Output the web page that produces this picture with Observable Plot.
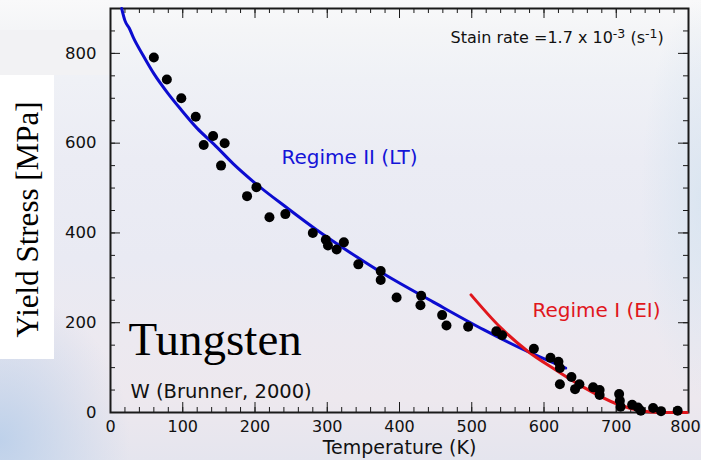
<!DOCTYPE html>
<html>
<head>
<meta charset="utf-8">
<script src="https://cdn.jsdelivr.net/npm/d3@7"></script>
<script src="https://cdn.jsdelivr.net/npm/@observablehq/plot@0.6"></script>
<style>
  html, body { margin: 0; padding: 0; background: #fff; }
  #wrap {
    position: relative; width: 701px; height: 460px; overflow: hidden;
    background:
      radial-gradient(ellipse 130px 150px at 0px 440px, rgba(188,208,234,0.95), rgba(188,208,234,0)),
      radial-gradient(ellipse 60px 200px at 701px 200px, rgba(215,228,240,0.8), rgba(215,228,240,0)),
      linear-gradient(to bottom, #f9f9fa 0px, #f4f5f7 30px, #eff1f6 80px, #ebecf4 160px, #e9eaf3 260px, #ece9f0 340px, #ede8ee 400px, #e5e5ee 460px);
  }
  #tlband { position: absolute; left: 0; top: 30px; width: 110px; height: 45px; background: #f2f2f4; }
  #ybox { position: absolute; left: 0; top: 75px; width: 54px; height: 284px; background: #ffffff; }
  #chart { position: absolute; left: 0; top: 0; }
</style>
</head>
<body>
<div id="wrap"><div id="tlband"></div><div id="ybox"></div><div id="chart"></div></div>
<script>
// Measured yield stress of tungsten (Brunner, 2000): temperature (K) and stress (MPa)
const pointT = [60, 78, 98, 118, 129, 142, 153, 158, 189, 202, 220, 242, 280, 298, 301, 313, 323, 343, 374, 374, 396, 429, 430, 459, 465, 495, 534, 542, 586, 609, 620, 622, 622, 638, 643, 649, 668, 677, 677, 704, 705, 706, 722, 730, 734, 751, 762, 785];
const pointS = [791, 742, 700, 659, 596, 616, 550, 600, 482, 502, 435, 442, 400, 385, 372, 363, 379, 330, 315, 295, 256, 239, 260, 217, 194, 191, 181, 172, 142, 122, 113, 99, 63, 79, 52, 63, 56, 50, 39, 41, 26, 13, 17, 11, 4, 10, 3, 4];

// Regime II (LT) model curve
const blueT = [15.5, 20, 26, 32, 45, 60, 80, 97, 120, 143, 170, 198, 245, 286, 332, 378, 447, 517, 572, 630];
const blueS = [900, 873, 856, 834, 796, 755, 710, 676, 633, 598, 554, 514, 455, 406, 356, 309, 246, 184, 140, 99];

// Regime I (EI) model curve
const redT = [499, 540, 577, 618, 655, 701, 734, 760, 798];
const redS = [262, 189, 137, 93, 56, 19, 4, 0, 0];

// Ticks
const xMajorTicks = [0, 100, 200, 300, 400, 500, 600, 700, 800];
const xMinorTicks = d3.range(0, 801, 20);
const yMajorTicks = [0, 200, 400, 600, 800];
const yMinorTicks = d3.range(0, 901, 50);

const points = pointT.map((t, i) => ({T: t, S: pointS[i]}));
const blue = blueT.map((t, i) => ({T: t, S: blueS[i]}));
const red = redT.map((t, i) => ({T: t, S: redS[i]}));

const sans = "DejaVu Sans, sans-serif";
const serif = "Liberation Serif, Times New Roman, serif";
const tickColor = "#1a1a1a";

const W = 701, H = 460, ML = 110, MR = 13, MT = 8, MB = 48;
const frameW = W - ML - MR, frameH = H - MT - MB;
const minorLen = 5, majorLen = 10;

// inward tick marks: full-span rules shortened with insets
const ticksX = (values, len) => [
  Plot.ruleX(values, {x: d => d, insetTop: frameH - len, stroke: tickColor, strokeWidth: 1}),
  Plot.ruleX(values, {x: d => d, insetBottom: frameH - len, stroke: tickColor, strokeWidth: 1})
];
const ticksY = (values, len) => [
  Plot.ruleY(values, {y: d => d, insetRight: frameW - len, stroke: tickColor, strokeWidth: 1}),
  Plot.ruleY(values, {y: d => d, insetLeft: frameW - len, stroke: tickColor, strokeWidth: 1})
];

const xLabelOpts = {anchor: "bottom", tickSize: 0, tickPadding: 8, fontSize: 16, tickFormat: d => String(d), fill: "#111"};

const chart = Plot.plot({
  width: W,
  height: H,
  marginLeft: ML,
  marginRight: MR,
  marginTop: MT,
  marginBottom: MB,
  x: {domain: [0, 800], label: null},
  y: {domain: [0, 900], label: null},
  style: {background: "transparent", fontFamily: sans, color: "#111", overflow: "visible"},
  marks: [
    ...ticksX(xMinorTicks, minorLen),
    ...ticksX(xMajorTicks, majorLen),
    ...ticksY(yMinorTicks, minorLen),
    ...ticksY(yMajorTicks, majorLen),
    Plot.frame({stroke: tickColor, strokeWidth: 2}),
    // tick labels (the last one nudged left so it stays inside the page)
    Plot.axisX(xMajorTicks.slice(0, -1), xLabelOpts),
    Plot.axisX(xMajorTicks.slice(-1), {...xLabelOpts, dx: -3}),
    Plot.axisY(yMajorTicks, {anchor: "left", tickSize: 0, tickPadding: 14, fontSize: 16.5, tickFormat: d => String(d), fill: "#111"}),
    // curves and data
    Plot.line(blue, {x: "T", y: "S", stroke: "#0c0cd0", strokeWidth: 3, curve: "monotone-x"}),
    Plot.line(red, {x: "T", y: "S", stroke: "#e0161c", strokeWidth: 3, curve: "monotone-x"}),
    Plot.dot(points, {x: "T", y: "S", r: 5, fill: "#000", stroke: null}),
    // annotations
    Plot.text(["Regime II (LT)"], {x: 236.7, y: 552.7, textAnchor: "start", lineAnchor: "bottom", fontSize: 20, fill: "#1414d8", fontFamily: sans}),
    Plot.text(["Regime I (EI)"], {x: 584, y: 212.7, textAnchor: "start", lineAnchor: "bottom", fontSize: 20, fill: "#e0161c", fontFamily: sans}),
    Plot.text(["Tungsten"], {x: 24.9, y: 128.2, textAnchor: "start", lineAnchor: "bottom", fontSize: 47, fill: "#000", fontFamily: serif}),
    Plot.text(["W (Brunner, 2000)"], {x: 27.7, y: 33.3, textAnchor: "start", lineAnchor: "bottom", fontSize: 19.5, fill: "#111", fontFamily: sans}),
    Plot.text(["Stain rate =1.7 x 10-3 (s-1)"], {x: 470.6, y: 822.9, textAnchor: "start", lineAnchor: "bottom", fontSize: 16, fill: "#111", fontFamily: sans, className: "stainrate"}),
    // axis titles
    Plot.text(["Temperature (K)"], {frameAnchor: "bottom", dy: 41, lineAnchor: "bottom", fontSize: 19, fill: "#111", fontFamily: sans}),
    Plot.text(["Yield Stress [MPa]"], {frameAnchor: "left", dx: -73, dy: 9, rotate: -90, textAnchor: "middle", lineAnchor: "bottom", fontSize: 31, fill: "#000", fontFamily: serif})
  ]
});

document.getElementById("chart").appendChild(chart);

// superscripts in the strain-rate note
const t = d3.select(chart).select("g.stainrate text");
if (!t.empty()) {
  t.text(null);
  t.append("tspan").text("Stain rate =1.7 x 10");
  t.append("tspan").attr("font-size", 12.5).attr("dy", -5).text("-3");
  t.append("tspan").attr("dy", 5).text("\u00a0(s");
  t.append("tspan").attr("font-size", 12.5).attr("dy", -5).text("-1");
  t.append("tspan").attr("dy", 5).text(")");
}
</script>
</body>
</html>
